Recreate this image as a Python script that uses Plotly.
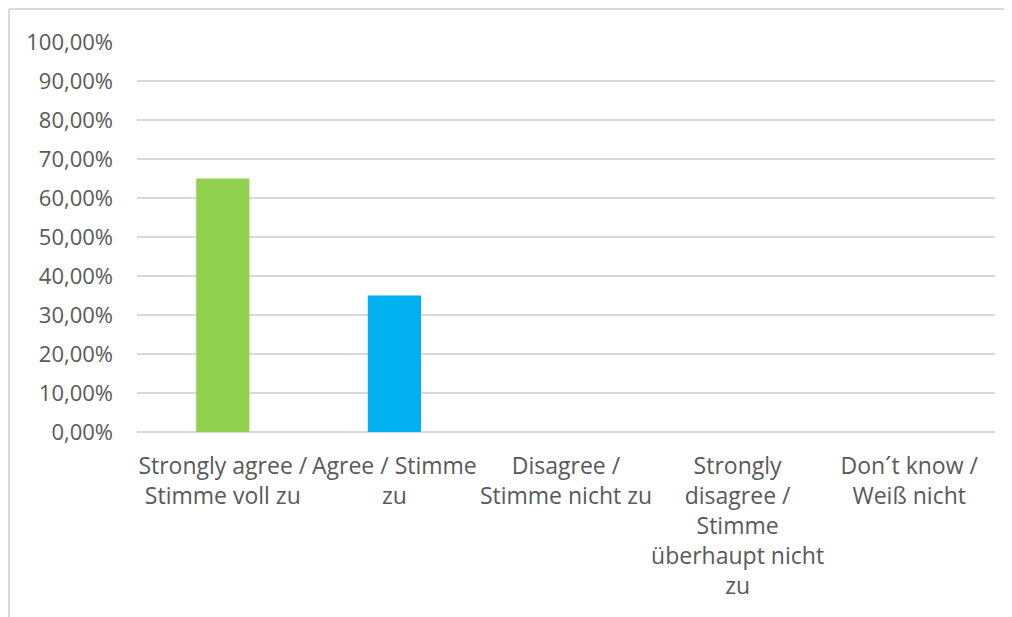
import plotly.graph_objects as go

categories = [
    "Strongly agree /<br>Stimme voll zu",
    "Agree / Stimme<br>zu",
    "Disagree /<br>Stimme nicht zu",
    "Strongly<br>disagree /<br>Stimme<br>überhaupt nicht<br>zu",
    "Don´t know /<br>Weiß nicht",
]
values = [0.65, 0.35, 0.0, 0.0, 0.0]
colors = ["#92D050", "#00B0F0", "#92D050", "#92D050", "#92D050"]
tick_vals = [i / 10 for i in range(11)]

fig = go.Figure(go.Bar(x=categories, y=values, marker=dict(color=colors, line=dict(width=0)), width=0.31))

fam = "Open Sans, Noto Sans, sans-serif"
fig.update_layout(
    width=1012, height=617,
    margin=dict(l=129, r=25, t=34, b=193),
    paper_bgcolor="white", plot_bgcolor="white",
    separators=",.",
    font=dict(family=fam, size=22, color="#595959"),
    showlegend=False,
    xaxis=dict(showgrid=False, showline=False, ticks="", ticklabelstandoff=18, tickangle=0,
               automargin=False, tickfont=dict(family=fam, size=23, color="#595959")),
    yaxis=dict(range=[0, 1], tickvals=tick_vals, tickformat=".2%", showgrid=True,
               gridcolor="#d9d9d9", gridwidth=1.5, zeroline=True, zerolinecolor="#d9d9d9",
               zerolinewidth=1.5, showline=False, ticks="", ticklabelstandoff=23,
               automargin=False),
    shapes=[
        dict(type="line", xref="paper", yref="paper", x0=-0.1492, x1=-0.1492, y0=1.0846, y1=-0.5,
             line=dict(color="#d9d9d9", width=2)),
        dict(type="line", xref="paper", yref="paper", x0=-0.1492, x1=1.05, y0=1.0846, y1=1.0846,
             line=dict(color="#d9d9d9", width=2)),
    ],
)
fig.write_html("out.html")
